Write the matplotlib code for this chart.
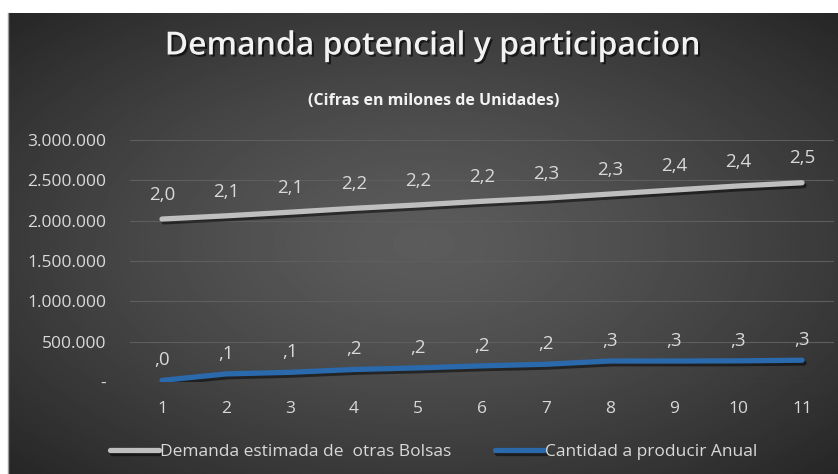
import numpy as np
import matplotlib.pyplot as plt
import matplotlib.patheffects as pe
from matplotlib.ticker import FuncFormatter

# Datos (unidades)
periodos = list(range(1, 12))
demanda_otras = [2020000, 2060000, 2105000, 2153000, 2195000, 2240000,
                 2280000, 2330000, 2380000, 2430000, 2470000]
cantidad_anual = [20000, 100000, 120000, 155000, 175000, 200000,
                  220000, 260000, 260000, 262000, 270000]

titulo = 'Demanda potencial y participacion'
subtitulo = '(Cifras en milones de Unidades)'
serie_1 = 'Demanda estimada de  otras Bolsas'
serie_2 = 'Cantidad a producir Anual'

plt.rcParams['font.family'] = ['Open Sans', 'DejaVu Sans']

W, H = 838, 474
fig = plt.figure(figsize=(W / 100, H / 100), dpi=100, facecolor='white')

# Fondo con degradado radial
bg = fig.add_axes([8 / W, 0, (W - 8) / W, (H - 13) / H])
yy, xx = np.mgrid[-1:1:300j, -1:1:500j]
r = np.sqrt(xx ** 2 + yy ** 2) / np.sqrt(2)
grad = 0.36 - 0.21 * np.clip(r, 0, 1) ** 1.3
bg.imshow(grad, cmap='gray', vmin=0, vmax=1, aspect='auto', extent=[0, 1, 0, 1])
bg.axis('off')
fig.add_artist(plt.Line2D([8 / W, 8 / W], [0, (H - 13) / H], color='#9a9a9a', lw=1))

ax = fig.add_axes([130 / W, 1 - 382 / H, 704 / W, (382 - 140) / H])
ax.patch.set_alpha(0)
ax.set_xlim(0.5, 11.5)
ax.set_ylim(0, 3000000)
ax.set_yticks(np.arange(0, 3000001, 500000))
ax.yaxis.set_major_formatter(FuncFormatter(
    lambda v, p: '-' if v == 0 else f'{int(v):,}'.replace(',', '.')))
ax.set_xticks(periodos)
ax.grid(axis='y', color='#5e5e5e', lw=0.8)
ax.set_axisbelow(True)
for s in ax.spines.values():
    s.set_visible(False)
ax.tick_params(length=0, colors='#d9d9d9', labelsize=12.5)
ax.tick_params(axis='y', pad=17)
ax.tick_params(axis='x', pad=14)

sombra = [pe.SimpleLineShadow(offset=(1.5, -2), shadow_color='black', alpha=0.5), pe.Normal()]
l1, = ax.plot(periodos, demanda_otras, color='#bfbfbf', lw=3.8,
              solid_capstyle='round', path_effects=sombra)
l2, = ax.plot(periodos, cantidad_anual, color='#2a69ab', lw=3.8,
              solid_capstyle='round', path_effects=sombra)


def etiqueta(v):
    s = f'{v / 1e6:.1f}'.replace('.', ',')
    return s[1:] if s.startswith('0') else s


for serie, dy in ((demanda_otras, 11), (cantidad_anual, 8)):
    for x, v in zip(periodos, serie):
        ax.annotate(etiqueta(v), (x, v), xytext=(0, dy), textcoords='offset points',
                    ha='center', va='bottom', color='#d9d9d9', fontsize=13.5)

fig.text(433 / W, 1 - 46 / H, titulo, ha='center', va='center', color='#f2f2f2',
         fontsize=23, fontweight='semibold',
         path_effects=[pe.withSimplePatchShadow(offset=(1.5, -1.5), shadow_rgbFace='black', alpha=0.6)])
fig.text(434 / W, 1 - 101 / H, subtitulo, ha='center', va='center', color='#f2f2f2',
         fontsize=11.5, fontweight='bold')

fig.legend([l1, l2], [serie_1, serie_2], loc='center', bbox_to_anchor=(434 / W, 1 - 452 / H),
           ncol=2, frameon=False, labelcolor='#d9d9d9', fontsize=12.5,
           handlelength=2.8, handletextpad=0.1, columnspacing=2.5)

fig.savefig('out.png', dpi=100, facecolor='white')
